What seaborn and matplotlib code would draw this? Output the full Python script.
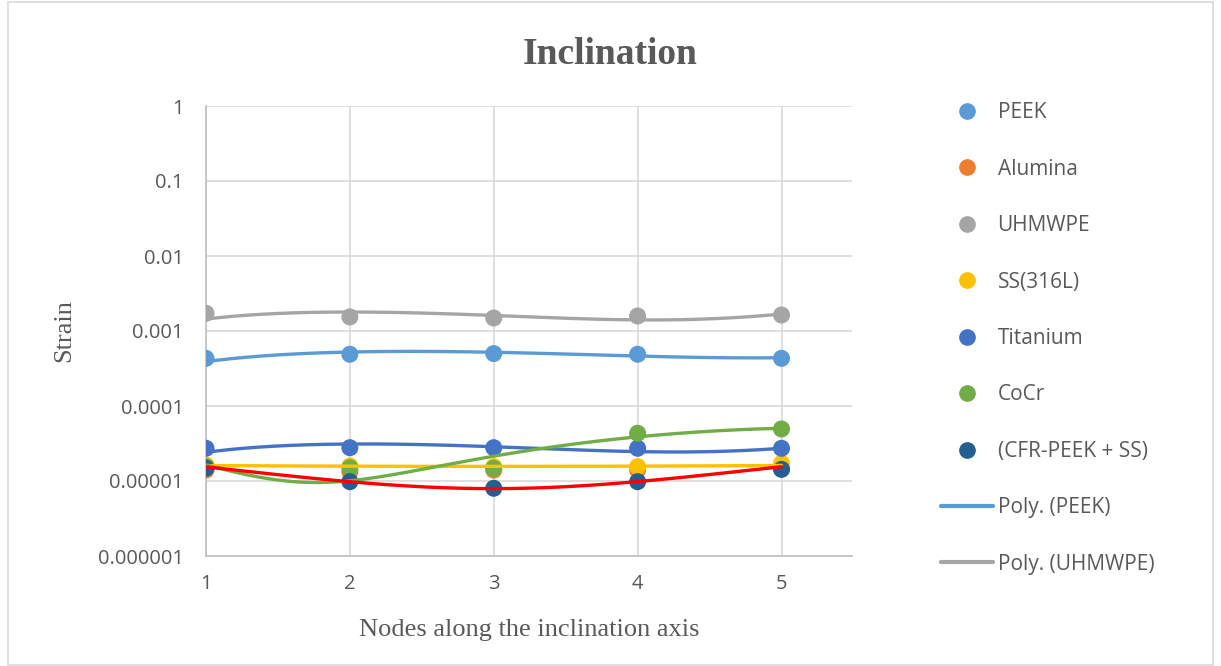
import numpy as np
import pandas as pd
import matplotlib
matplotlib.use("Agg")
import matplotlib.pyplot as plt
import seaborn as sns
from matplotlib.lines import Line2D
from matplotlib.patches import Rectangle

nodes = [1, 2, 3, 4, 5]
peek = [4.32e-4, 4.9e-4, 5.0e-4, 4.9e-4, 4.32e-4]
alumina = [1.4e-5, 1.33e-5, 1.4e-5, 1.4e-5, 1.45e-5]
uhmwpe = [1.72e-3, 1.54e-3, 1.49e-3, 1.585e-3, 1.634e-3]
ss316l = [1.63e-5, 1.58e-5, 1.55e-5, 1.55e-5, 1.72e-5]
titanium = [2.73e-5, 2.78e-5, 2.78e-5, 2.73e-5, 2.73e-5]
cocr = [1.55e-5, 1.5e-5, 1.48e-5, 4.33e-5, 4.94e-5]
cfr_peek_ss = [1.48e-5, 9.8e-6, 8.0e-6, 9.8e-6, 1.43e-5]

# polynomial trendline values at the nodes
peek_trend = [3.9e-4, 5.25e-4, 5.2e-4, 4.64e-4, 4.4e-4]
uhmwpe_trend = [1.445e-3, 1.775e-3, 1.634e-3, 1.39e-3, 1.686e-3]
titanium_trend = [2.41e-5, 3.11e-5, 2.87e-5, 2.46e-5, 2.73e-5]
ss316l_trend = [1.6e-5, 1.59e-5, 1.57e-5, 1.56e-5, 1.62e-5]
cocr_trend = [1.634e-5, 1.03e-5, 2.11e-5, 3.9e-5, 5.04e-5]
cfr_trend = [1.55e-5, 9.6e-6, 8.07e-6, 9.8e-6, 1.55e-5]

series_names = ["PEEK", "Alumina", "UHMWPE", "SS(316L)", "Titanium", "CoCr", "(CFR-PEEK + SS)"]
series_vals = [peek, alumina, uhmwpe, ss316l, titanium, cocr, cfr_peek_ss]
colors = ["#5B9BD5", "#ED7D31", "#A5A5A5", "#FFC000", "#4472C4", "#70AD47", "#255E91"]

y_ticks = [1, 0.1, 0.01, 0.001, 0.0001, 0.00001, 0.000001]
y_tick_labels = ["1", "0.1", "0.01", "0.001", "0.0001", "0.00001", "0.000001"]

# trendlines: (values, colour, order)
trends = [(titanium_trend, "#4472C4", 3), (ss316l_trend, "#FFC000", 2), (cocr_trend, "#70AD47", 3),
          (peek_trend, "#5B9BD5", 3), (uhmwpe_trend, "#A5A5A5", 3), (cfr_trend, "#FF0000", 2)]

df = pd.DataFrame({
    "node": np.tile(nodes, len(series_names)),
    "strain": np.concatenate(series_vals),
    "material": np.repeat(series_names, len(nodes)),
})

sns.set_theme(style="white")
plt.rcParams["font.family"] = ["Open Sans", "DejaVu Sans"]
txt = "#595959"

fig = plt.figure(figsize=(12.21, 6.66), dpi=100)
ax = fig.add_axes([206/1221, 1-556/666, (852-206)/1221, (556-106)/666])

sns.scatterplot(data=df, x="node", y="strain", hue="material", hue_order=series_names,
                palette=dict(zip(series_names, colors)), s=150, edgecolor="none",
                legend=False, ax=ax, zorder=3)

xs = np.linspace(1, 5, 200)
for vals, col, deg in trends:
    coef = np.polyfit(nodes, vals, deg)
    ax.plot(xs, np.polyval(coef, xs), color=col, lw=2.4, zorder=4, solid_capstyle="round")

ax.set_yscale("log")
ax.set_ylim(1e-6, 1)
ax.set_xlim(1, 5.49)
ax.set_yticks(y_ticks)
ax.set_yticklabels(y_tick_labels)
ax.yaxis.set_minor_locator(matplotlib.ticker.NullLocator())
ax.set_xticks(nodes)
ax.set_xticklabels([str(n) for n in nodes])
ax.tick_params(axis="both", length=0, labelsize=14.5, colors=txt)
ax.tick_params(axis="y", pad=16)
ax.tick_params(axis="x", pad=13)
ax.grid(True, color="#D9D9D9", lw=1.2)
ax.set_axisbelow(True)
for s in ["top", "right"]:
    ax.spines[s].set_visible(False)
for s in ["left", "bottom"]:
    ax.spines[s].set_color("#BFBFBF")
    ax.spines[s].set_linewidth(1.2)

ax.set_xlabel("Nodes along the inclination axis", family="Liberation Serif", fontsize=19, color=txt, labelpad=18)
ax.set_ylabel("Strain", family="Liberation Serif", fontsize=19, color=txt, labelpad=16)
fig.text(610/1221, 1-55/666, "Inclination", family="Liberation Serif", fontweight="bold",
         fontsize=27, color=txt, ha="center", va="center")

handles = [Line2D([], [], ls="none", marker="o", markersize=11, color=c) for c in colors]
handles += [Line2D([], [], color="#5B9BD5", lw=3), Line2D([], [], color="#A5A5A5", lw=3)]
labels = series_names + ["Poly. (PEEK)", "Poly. (UHMWPE)"]
fig.legend(handles, labels, loc="upper left", bbox_to_anchor=(933/1221, 1-94/666), frameon=False,
           fontsize=15, labelcolor=txt, labelspacing=1.7, handlelength=2.5, handletextpad=0.2,
           borderaxespad=0)

fig.add_artist(Rectangle((8/1221, 0.002), 1205/1221, 0.995, transform=fig.transFigure,
                         fill=False, edgecolor="#D9D9D9", lw=1.2))

fig.savefig("out.png", dpi=100)
